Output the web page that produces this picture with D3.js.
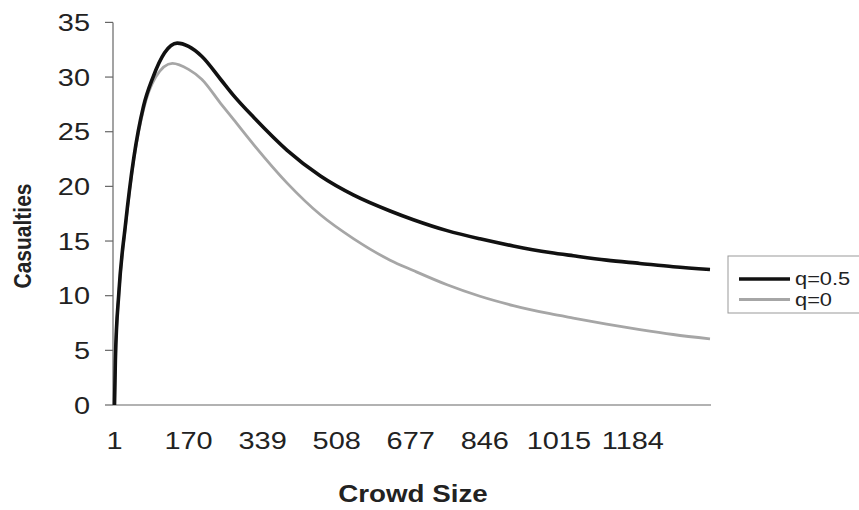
<!DOCTYPE html>
<html>
<head>
<meta charset="utf-8">
<script src="https://cdn.jsdelivr.net/npm/d3@7"></script>
<style>
  body { margin: 0; background: #fff; }
  svg { display: block; font-family: "Liberation Sans", Arial, sans-serif; }
</style>
</head>
<body>
<svg id="chart" width="859" height="510"></svg>
<script>
// ---- data ----
const seriesNames = ["q=0.5", "q=0"];
const sizesHalf = [1, 3, 11, 26, 45, 67, 89, 115, 144, 170, 200, 243, 273, 319, 395, 471, 547, 630, 683, 760, 835, 911, 995, 1048, 1124, 1200, 1276, 1360];
const valuesHalf = [0, 4.1, 10.3, 16.5, 22.6, 27.3, 30.0, 32.2, 33.1, 32.8, 31.9, 29.8, 28.3, 26.3, 23.3, 20.95, 19.2, 17.75, 16.95, 15.95, 15.2, 14.55, 13.95, 13.65, 13.25, 12.95, 12.65, 12.4];
const sizesZero = [1, 3, 11, 26, 45, 67, 95, 133, 170, 200, 243, 273, 319, 395, 471, 547, 630, 683, 760, 835, 911, 995, 1048, 1124, 1200, 1276, 1360];
const valuesZero = [0, 4.1, 10.2, 16.3, 22.4, 27.0, 30.0, 31.25, 30.7, 29.8, 27.6, 26.1, 23.8, 20.3, 17.4, 15.2, 13.25, 12.3, 11.0, 9.95, 9.1, 8.35, 7.95, 7.4, 6.9, 6.45, 6.05];
const xTickLabels = [1, 170, 339, 508, 677, 846, 1015, 1184];
const yTickLabels = [0, 5, 10, 15, 20, 25, 30, 35];

// ---- layout ----
const svg = d3.select("#chart");
const SX = 1.18; // horizontal stretch of the text in the reference
const x = d3.scaleLinear().domain([1, 1360]).range([114.5, 710]);
const y = d3.scaleLinear().domain([0, 35]).range([405, 22.4]);

// axes lines
svg.append("line").attr("x1", 113).attr("x2", 711).attr("y1", y(0)).attr("y2", y(0))
  .attr("stroke", "#666").attr("stroke-width", 1.2);
svg.append("line").attr("x1", 113).attr("x2", 113).attr("y1", y(35)).attr("y2", y(0))
  .attr("stroke", "#666").attr("stroke-width", 1.2);

// y axis ticks + labels
const yAxis = svg.append("g").attr("transform", "translate(113,0)");
yTickLabels.forEach(v => {
  yAxis.append("line").attr("x1", -8).attr("x2", 0).attr("y1", y(v)).attr("y2", y(v))
    .attr("stroke", "#666").attr("stroke-width", 1.2);
  yAxis.append("text")
    .attr("transform", `translate(-23,${y(v)}) scale(${SX},1)`)
    .attr("text-anchor", "end").attr("dy", "0.35em")
    .attr("font-size", 24.5).attr("fill", "#222").text(v);
});

// x axis labels
xTickLabels.forEach(v => {
  svg.append("text")
    .attr("transform", `translate(${x(v)},449) scale(${SX},1)`)
    .attr("text-anchor", "middle")
    .attr("font-size", 24.5).attr("fill", "#222").text(v);
});

// titles
svg.append("text")
  .attr("transform", `translate(413,502) scale(${SX},1)`)
  .attr("text-anchor", "middle").attr("font-size", 23.5).attr("font-weight", "bold")
  .attr("fill", "#222").text("Crowd Size");
svg.append("text")
  .attr("transform", `translate(31,236) scale(${SX},1) rotate(-90)`)
  .attr("text-anchor", "middle").attr("font-size", 21).attr("font-weight", "bold")
  .attr("fill", "#222").text("Casualties");

// lines
const line = d3.line().x(d => x(d[0])).y(d => y(d[1])).curve(d3.curveMonotoneX);
const dataZero = sizesZero.map((n, i) => [n, valuesZero[i]]);
const dataHalf = sizesHalf.map((n, i) => [n, valuesHalf[i]]);
svg.append("path").datum(dataZero).attr("d", line)
  .attr("fill", "none").attr("stroke", "#a6a6a6").attr("stroke-width", 2.8);
svg.append("path").datum(dataHalf).attr("d", line)
  .attr("fill", "none").attr("stroke", "#111").attr("stroke-width", 3.6);

// legend
const lg = svg.append("g");
lg.append("rect").attr("x", 728).attr("y", 256).attr("width", 140).attr("height", 57)
  .attr("fill", "#fff").attr("stroke", "#999").attr("stroke-width", 1);
const legendColors = ["#111", "#a6a6a6"];
const legendWidths = [3.6, 2.8];
seriesNames.forEach((name, i) => {
  const ly = 279 + i * 20.5;
  lg.append("line").attr("x1", 739).attr("x2", 790).attr("y1", ly).attr("y2", ly)
    .attr("stroke", legendColors[i]).attr("stroke-width", legendWidths[i]);
  lg.append("text")
    .attr("transform", `translate(795,${ly}) scale(${SX},1)`)
    .attr("dy", "0.35em").attr("font-size", 18.5).attr("fill", "#222").text(name);
});
</script>
</body>
</html>
